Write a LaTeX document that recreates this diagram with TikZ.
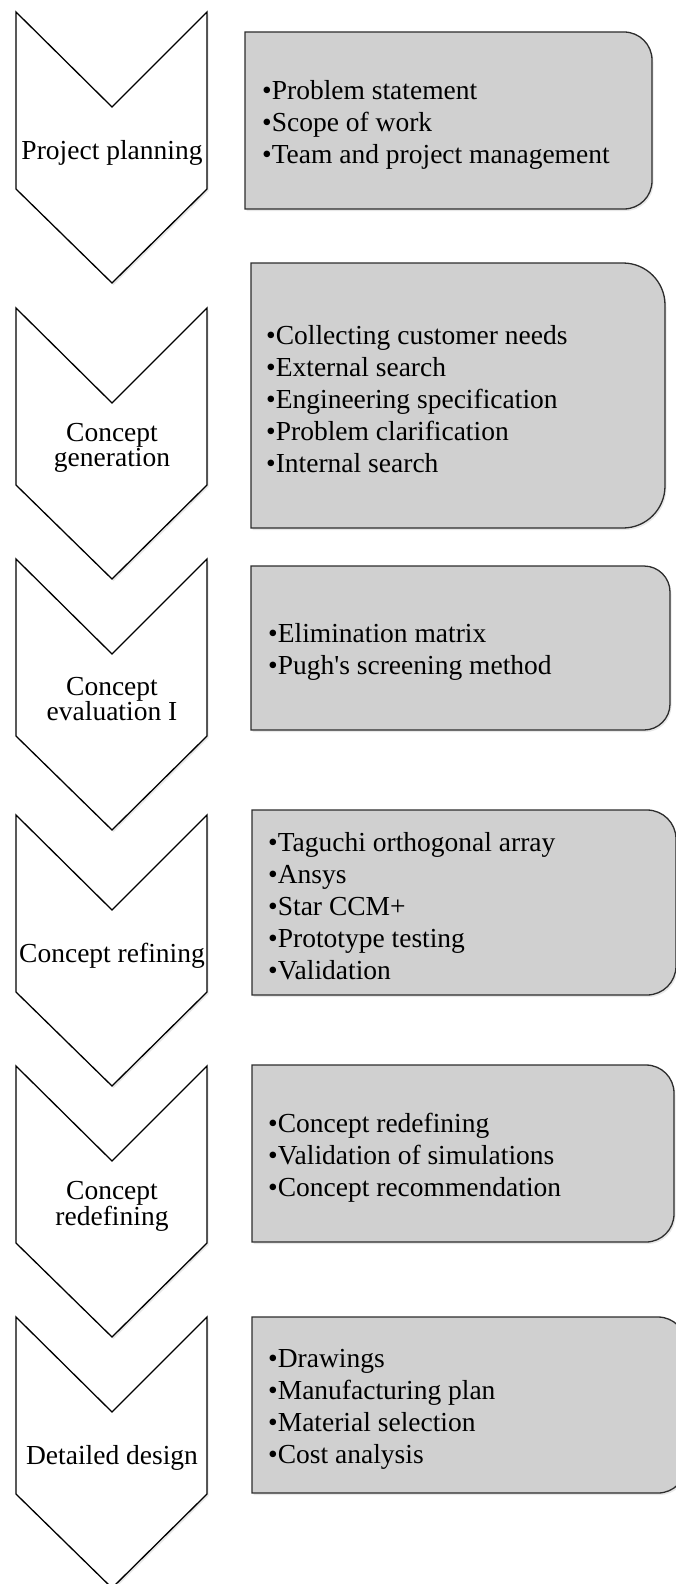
\documentclass[tikz,border=0pt]{standalone}
\usepackage{fontspec}
\setmainfont{Liberation Serif}
\usepackage{tikz}
\usetikzlibrary{shadows}
\definecolor{boxgray}{RGB}{208,208,208}
\definecolor{edgegray}{RGB}{45,45,45}

\begin{document}
\begin{tikzpicture}[x=1pt,y=1pt,
  chevron/.style={draw=black,fill=white,line width=1.3pt,line join=miter,
    drop shadow={shadow xshift=1.5pt,shadow yshift=-2pt,opacity=0.18}},
  itembox/.style={draw=edgegray,fill=boxgray,line width=1.3pt,
    drop shadow={shadow xshift=1.5pt,shadow yshift=-2pt,opacity=0.18}},
  lbl/.style={align=center,inner sep=0pt,font={\fontsize{27.5}{25}\selectfont}},
  items/.style={anchor=west,align=left,inner sep=0pt,font={\fontsize{27.5}{32}\selectfont}}]
\useasboundingbox (0,0) rectangle (675,-1584);

% chevrons
\draw[chevron] (16,-12) -- (112,-107) -- (207,-12) -- (207,-189) -- (112,-283) -- (16,-189) -- cycle;
\draw[chevron] (16,-308) -- (112,-403) -- (207,-308) -- (207,-485) -- (112,-579) -- (16,-485) -- cycle;
\draw[chevron] (16,-559) -- (112,-654) -- (207,-559) -- (207,-736) -- (112,-830) -- (16,-736) -- cycle;
\draw[chevron] (16,-815) -- (112,-910) -- (207,-815) -- (207,-992) -- (112,-1086) -- (16,-992) -- cycle;
\draw[chevron] (16,-1066) -- (112,-1161) -- (207,-1066) -- (207,-1243) -- (112,-1337) -- (16,-1243) -- cycle;
\draw[chevron] (16,-1317) -- (112,-1412) -- (207,-1317) -- (207,-1494) -- (112,-1588) -- (16,-1494) -- cycle;

\node[lbl] (planning) at (112,-153) {Project planning};
\node[lbl] (generation) at (112,-448) {Concept\\generation};
\node[lbl] (evaluation) at (112,-699) {Concept\\evaluation I};
\node[lbl] (refining) at (112,-956) {Concept refining};
\node[lbl] (redefining) at (112,-1206) {Concept\\redefining};
\node[lbl] (detailed) at (112,-1458) {Detailed design};

% boxes
\draw[itembox] (245,-32) -- (624,-32) arc[start angle=90,end angle=0,radius=28] -- (652,-181) arc[start angle=0,end angle=-90,radius=28] -- (245,-209) -- cycle;
\draw[itembox] (251,-263) -- (623,-263) arc[start angle=90,end angle=0,radius=42] -- (665,-486) arc[start angle=0,end angle=-90,radius=42] -- (251,-528) -- cycle;
\draw[itembox] (251,-566) -- (644,-566) arc[start angle=90,end angle=0,radius=26] -- (670,-704) arc[start angle=0,end angle=-90,radius=26] -- (251,-730) -- cycle;
\draw[itembox] (252,-810) -- (647,-810) arc[start angle=90,end angle=0,radius=29] -- (676,-966) arc[start angle=0,end angle=-90,radius=29] -- (252,-995) -- cycle;
\draw[itembox] (252,-1065) -- (646,-1065) arc[start angle=90,end angle=0,radius=28] -- (674,-1214) arc[start angle=0,end angle=-90,radius=28] -- (252,-1242) -- cycle;
\draw[itembox] (252,-1317) -- (658,-1317) arc[start angle=90,end angle=0,radius=28] -- (686,-1465) arc[start angle=0,end angle=-90,radius=28] -- (252,-1493) -- cycle;

\node[items] (planitems) at (262,-124.5) {•Problem statement\\•Scope of work\\•Team and project management};
\node[items] (genitems) at (266,-399.5) {•Collecting customer needs\\•External search\\•Engineering specification\\•Problem clarification\\•Internal search};
\node[items] (evalitems) at (268,-652) {•Elimination matrix\\•Pugh\textquotesingle s screening method};
\node[items] (refitems) at (268,-906.5) {•Taguchi orthogonal array\\•Ansys\\•Star CCM+\\•Prototype testing\\•Validation};
\node[items] (redefitems) at (268,-1157.5) {•Concept redefining\\•Validation of simulations\\•Concept recommendation};
\node[items] (detitems) at (268,-1409) {•Drawings\\•Manufacturing plan\\•Material selection\\•Cost analysis};
\end{tikzpicture}
\end{document}
